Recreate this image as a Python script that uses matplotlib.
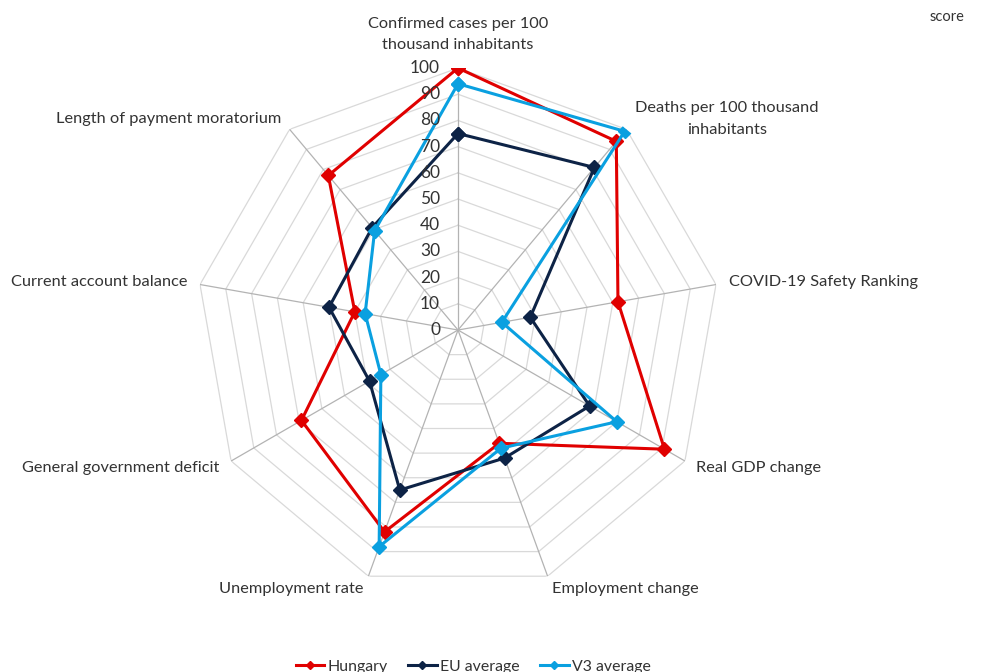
import numpy as np
import matplotlib
matplotlib.use('Agg')
import matplotlib.pyplot as plt
from matplotlib.transforms import offset_copy

plt.rcParams['font.family'] = ['Lato', 'DejaVu Sans']

# indicators, clockwise from the top
categories = [
    'Confirmed cases per 100\nthousand inhabitants',
    'Deaths per 100 thousand\ninhabitants',
    'COVID-19 Safety Ranking',
    'Real GDP change',
    'Employment change',
    'Unemployment rate',
    'General government deficit',
    'Current account balance',
    'Length of payment moratorium',
]
hungary = [100, 94, 62, 91, 46, 82, 69, 40, 77]
eu_avg = [75, 81, 28, 58, 52, 65, 39, 50, 51]
v3_avg = [94, 99, 17, 70, 48, 88, 34, 36, 49.5]
rticks = [0, 10, 20, 30, 40, 50, 60, 70, 80, 90, 100]

series = [
    ('Hungary', hungary, '#e00000'),
    ('EU average', eu_avg, '#0d2346'),
    ('V3 average', v3_avg, '#0aa0e0'),
]
txt_col = '#333333'

n = len(categories)
theta = np.arange(n) * 2 * np.pi / n
theta_closed = np.append(theta, theta[0])

fig = plt.figure(figsize=(9.92, 6.72), dpi=100)
ax = fig.add_axes([0.1976, 0.1190, 0.5282, 0.7798], projection='polar')
ax.set_theta_zero_location('N')
ax.set_theta_direction(-1)
ax.set_ylim(0, 100)
ax.grid(False)
ax.spines['polar'].set_visible(False)
ax.set_xticks([])
ax.set_yticks([])

# polygon rings and spokes
for r in rticks[1:]:
    ax.plot(theta_closed, [r] * (n + 1), color='#d9d9d9', lw=0.9, zorder=1)
for t in theta:
    ax.plot([t, t], [0, 100], color='#b3b3b3', lw=0.9, zorder=1)

for name, vals, col in series:
    ax.plot(theta_closed, vals + vals[:1], color=col, lw=2.2, marker='D',
            markersize=7.5, label=name, zorder=3)

# radial value labels along the top spoke
lab_tr = offset_copy(ax.transData, fig=fig, x=-18, y=0, units='dots')
for r in rticks:
    ax.text(0, r, str(r), transform=lab_tr, ha='right', va='center',
            fontsize=12.5, color=txt_col, zorder=4)

# category labels
for t, lab in zip(theta, categories):
    deg = np.degrees(t)
    kw = dict(fontsize=11.8, color=txt_col, multialignment='center',
              linespacing=1.7)
    if deg == 0:
        ax.text(t, 106, lab, ha='center', va='bottom', **kw)
    elif deg < 180:
        ax.text(t, 105, lab, ha='left', va='center', **kw)
    else:
        ax.text(t, 105, lab, ha='right', va='center', **kw)

fig.legend(loc='center', bbox_to_anchor=(0.477, 0.008), ncol=3, frameon=False,
           fontsize=11.4, handlelength=1.8, handletextpad=0.2,
           columnspacing=1.3, markerscale=0.6, labelcolor=txt_col)
fig.text(0.955, 0.975, 'score', ha='center', va='center', fontsize=10.5,
         color=txt_col)

fig.savefig('out.png', dpi=100)
